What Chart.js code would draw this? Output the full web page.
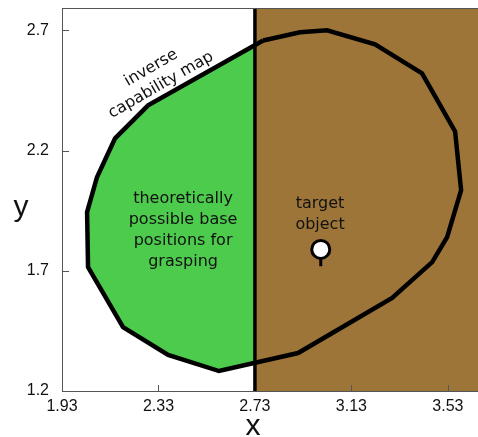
<!DOCTYPE html>
<html><head><meta charset="utf-8">
<script src="https://cdn.jsdelivr.net/npm/chart.js@4.4.1/dist/chart.umd.min.js"></script>
<style>html,body{margin:0;padding:0;background:#fff;}canvas{display:block;}</style>
</head><body>
<canvas id="c" width="478" height="437"></canvas>
<script>
// ---- data ----
const mapX = [2.764, 2.917, 3.029, 3.228, 3.423, 3.560, 3.585, 3.527, 3.465, 3.299, 2.909, 2.581, 2.370, 2.183, 2.038, 2.034, 2.075, 2.150, 2.287];
const mapY = [2.658, 2.692, 2.700, 2.642, 2.521, 2.280, 2.035, 1.840, 1.736, 1.587, 1.358, 1.283, 1.350, 1.466, 1.715, 1.944, 2.089, 2.251, 2.388];
const splitX = 2.73;
const target = [3.003, 1.789];
const stemEndY = 1.719;
const xTicks = [1.93, 2.33, 2.73, 3.13, 3.53];
const yTicks = [1.2, 1.7, 2.2, 2.7];
const xRange = [1.93, 3.655];
const yRange = [1.2, 2.793];
const labelInverse = ['inverse', 'capability map'];
const labelPossible = ['theoretically', 'possible base', 'positions for', 'grasping'];
const labelTarget = ['target', 'object'];

// ---- annotation placement (data coordinates) ----
const inverseAnchor = {x: 2.320, y: 2.508, angle: -30, gap: 19.8};
const possibleAnchor = {x: 2.432, y: 1.983, gap: 21};
const targetAnchor = {x: 3.000, y: 1.960, gap: 21};

const poly = mapX.map((v, i) => ({x: v, y: mapY[i]}));
const closed = poly.concat([poly[0]]);

const decor = {
  id: 'decor',
  afterDatasetsDraw(chart) {
    const {ctx, chartArea: a, scales: {x, y}} = chart;
    ctx.save();
    ctx.strokeStyle = '#555';
    ctx.lineWidth = 1;
    ctx.beginPath();
    ctx.moveTo(a.left, a.top + 0.5); ctx.lineTo(a.right, a.top + 0.5);
    ctx.moveTo(a.left + 0.5, a.top); ctx.lineTo(a.left + 0.5, a.bottom);
    ctx.moveTo(a.left, a.bottom + 0.5); ctx.lineTo(a.right, a.bottom + 0.5);
    xTicks.forEach(v => {
      if (v === splitX) return;
      const px = Math.round(x.getPixelForValue(v)) + 0.5;
      ctx.moveTo(px, a.bottom); ctx.lineTo(px, a.bottom - 6);
    });
    yTicks.forEach(v => {
      const py = Math.round(y.getPixelForValue(v)) + 0.5;
      ctx.moveTo(a.left, py); ctx.lineTo(a.left + 7, py);
    });
    ctx.stroke();

    ctx.fillStyle = '#111';
    ctx.textAlign = 'center';
    ctx.font = '16px "DejaVu Sans"';
    ctx.textBaseline = 'alphabetic';
    let px = x.getPixelForValue(possibleAnchor.x), py = y.getPixelForValue(possibleAnchor.y);
    labelPossible.forEach((t, i) => ctx.fillText(t, px, py + i * possibleAnchor.gap));
    px = x.getPixelForValue(targetAnchor.x); py = y.getPixelForValue(targetAnchor.y);
    labelTarget.forEach((t, i) => ctx.fillText(t, px, py + i * targetAnchor.gap));

    ctx.save();
    ctx.translate(x.getPixelForValue(inverseAnchor.x), y.getPixelForValue(inverseAnchor.y));
    ctx.rotate(inverseAnchor.angle * Math.PI / 180);
    ctx.textBaseline = 'middle';
    labelInverse.forEach((t, i) => ctx.fillText(t, 0, (i - 0.5) * inverseAnchor.gap));
    ctx.restore();

    ctx.font = '30px "Liberation Sans"';
    ctx.textBaseline = 'alphabetic';
    ctx.fillText('y', 21, 216);
    ctx.fillText('x', 253, 435);
    ctx.restore();
  }
};

const noPad = s => { s.paddingLeft = 0; s.paddingRight = 0; s.paddingTop = 0; s.paddingBottom = 0; };

new Chart(document.getElementById('c'), {
  type: 'line',
  data: {
    datasets: [
      {data: [{x: target[0], y: target[1]}], showLine: false, pointRadius: 9, pointBackgroundColor: '#fff', pointBorderColor: '#000', pointBorderWidth: 3},
      {data: [{x: target[0], y: target[1]}, {x: target[0], y: stemEndY}], borderColor: '#000', borderWidth: 3, pointRadius: 0, fill: false},
      {data: closed, borderColor: '#000', borderWidth: 4.5, pointRadius: 0, fill: false},
      {data: [{x: splitX, y: yRange[0]}, {x: splitX, y: yRange[1]}], borderColor: '#000', borderWidth: 3.5, pointRadius: 0, fill: false},
      {data: [{x: splitX, y: yRange[1]}, {x: xRange[1], y: yRange[1]}], borderColor: 'transparent', borderWidth: 0, pointRadius: 0, fill: 'start', backgroundColor: '#9e7539'},
      {data: closed, borderColor: 'transparent', borderWidth: 0, pointRadius: 0, fill: 'shape', backgroundColor: '#4ccb4c'}
    ]
  },
  options: {
    responsive: false,
    devicePixelRatio: 1,
    animation: false,
    events: [],
    layout: {autoPadding: false, padding: {top: 8, left: 0, right: 0, bottom: 0}},
    elements: {line: {tension: 0}},
    plugins: {legend: {display: false}, tooltip: {enabled: false}},
    scales: {
      x: {
        type: 'linear', min: xRange[0], max: xRange[1],
        grid: {display: false}, border: {display: false},
        afterBuildTicks: s => { s.ticks = xTicks.map(v => ({value: v})); },
        afterFit: s => { s.height = 46; noPad(s); },
        ticks: {autoSkip: false, maxRotation: 0, padding: -2, color: '#111', font: {family: 'Liberation Sans', size: 16}, callback: v => String(v)}
      },
      y: {
        type: 'linear', min: yRange[0], max: yRange[1],
        grid: {display: false}, border: {display: false},
        afterBuildTicks: s => { s.ticks = yTicks.map(v => ({value: v})); },
        afterFit: s => { s.width = 62; noPad(s); },
        ticks: {autoSkip: false, padding: 5, color: '#111', font: {family: 'Liberation Sans', size: 16}, callback: v => String(v)}
      }
    }
  },
  plugins: [decor]
});
</script>
</body></html>
